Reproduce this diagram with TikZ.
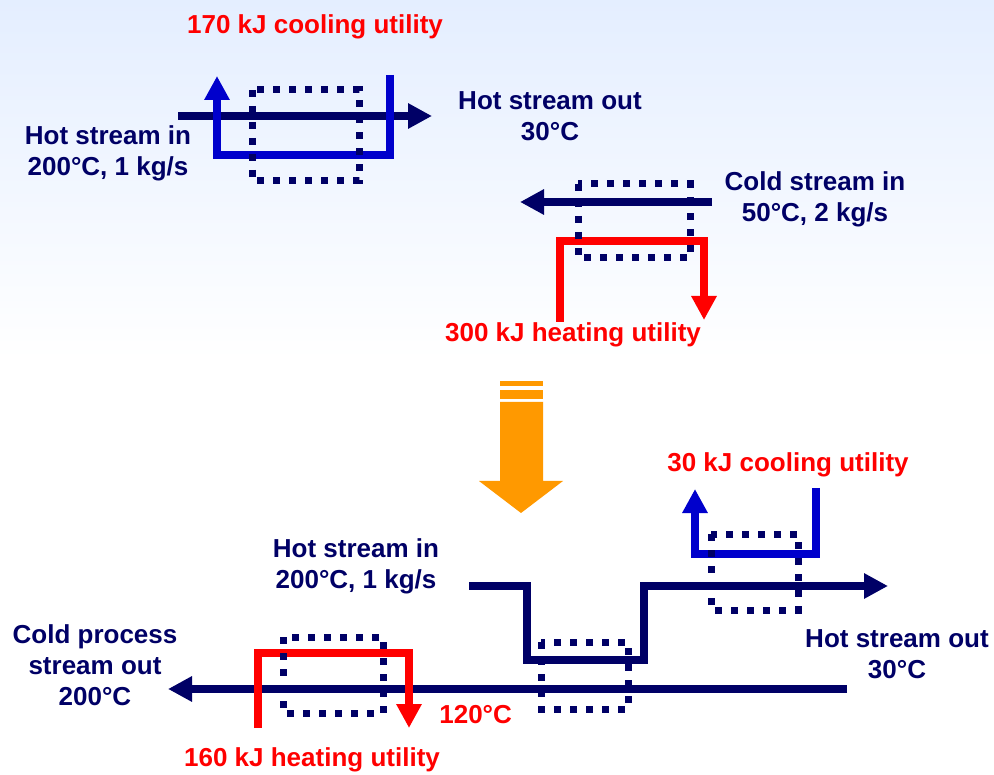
\documentclass[tikz,border=0pt]{standalone}
\usepackage{fontspec}
\setmainfont{Liberation Sans}
\usetikzlibrary{arrows.meta}
\definecolor{navy}{RGB}{0,0,102}
\definecolor{coolblue}{RGB}{0,0,204}
\definecolor{hotred}{RGB}{255,0,0}
\definecolor{arrorange}{RGB}{255,153,0}
\definecolor{bgblue}{RGB}{228,238,255}

\begin{document}
\begin{tikzpicture}[x=0.2mm, y=-0.2mm,
    every node/.style={font=\fontsize{14.8}{17.6}\selectfont\bfseries, align=center, inner sep=0pt},
    stream/.style={line width=1.6mm, navy},
    cutil/.style={line width=1.6mm, coolblue},
    hutil/.style={line width=1.6mm, hotred},
    arrowed/.style={-{Triangle[length=4.8mm, width=4.8mm]}},
    exch/.style={navy, line width=1.4mm, dash pattern=on 1.4mm off 1.8mm},
    slabel/.style={text=navy},
    ulabel/.style={text=hotred}]
    \useasboundingbox (0,0) rectangle (994,775);
    \fill[white] (0,0) rectangle (994,775);
    \shade[top color=bgblue, bottom color=white] (0,0) rectangle (994,360);

    % Before: hot stream with cooler
    \coordinate (hin1) at (178,116);
    \coordinate (hout1) at (432,116);
    \coordinate (cw1in) at (390,75);
    \coordinate (cw1out) at (217,76);
    \draw[stream, arrowed] (hin1) -- (hout1);
    \draw[cutil, arrowed] (cw1in) -- ++(0,80) -| (cw1out);
    \node[ulabel] (cool1) at (315,27) {170 kJ cooling utility};
    \node[slabel] (hotin1) at (108,153) {Hot stream in\\200°C, 1 kg/s};
    \node[slabel] (hotout1) at (550,116) {Hot stream out\\30°C};

    % Before: cold stream with heater
    \coordinate (cin1) at (712,202);
    \coordinate (cout1) at (520,202);
    \coordinate (hw1in) at (560,322);
    \coordinate (hw1out) at (704,320);
    \draw[stream, arrowed] (cin1) -- (cout1);
    \draw[hutil, arrowed] (hw1in) -- ++(0,-81) -| (hw1out);
    \node[slabel] (coldin1) at (815,199) {Cold stream in\\50°C, 2 kg/s};
    \node[ulabel] (heat1) at (573,335) {300 kJ heating utility};

    \draw[exch] (252,90) rectangle (359,181);
    \draw[exch] (578,184) rectangle (690,258);

    % orange arrow
    \fill[arrorange] (500,381) rectangle (543,386);
    \fill[arrorange] (500,390) rectangle (543,399);
    \fill[arrorange] (500,402) -- (543,402) -- (543,481) -- (563,481) -- (521,513)
        -- (479,481) -- (500,481) -- cycle;

    % After: integrated network
    \coordinate (hin2) at (469,586);
    \coordinate (hout2) at (888,586);
    \coordinate (cin2) at (847,689);
    \coordinate (cout2) at (168,689);
    \coordinate (cw2in) at (816,488);
    \coordinate (cw2out) at (695,489);
    \coordinate (hw2in) at (258,728);
    \coordinate (hw2out) at (409,728);
    \draw[stream, arrowed] (hin2) -- (527,586) -- (527,660) -- (644,660) -- (644,586) -- (hout2);
    \draw[stream, arrowed] (cin2) -- (cout2);
    \draw[cutil, arrowed] (cw2in) -- ++(0,66) -| (cw2out);
    \draw[hutil, arrowed] (hw2in) -- ++(0,-75) -| (hw2out);

    \draw[exch] (711,534) rectangle (798,610);
    \draw[exch] (541,642) rectangle (628,709);
    \draw[exch] (283,637) rectangle (383,713);

    \node[ulabel] (cool2) at (788,465) {30 kJ cooling utility};
    \node[slabel] (hotin2) at (356,566) {Hot stream in\\200°C, 1 kg/s};
    \node[slabel] (hotout2) at (897,654) {Hot stream out\\30°C};
    \node[slabel] (coldout2) at (95,665) {Cold process\\stream out\\200°C};
    \node[ulabel, anchor=west] (mid) at (439,715) {120°C};
    \node[ulabel] (heat2) at (312,760) {160 kJ heating utility};
\end{tikzpicture}
\end{document}
